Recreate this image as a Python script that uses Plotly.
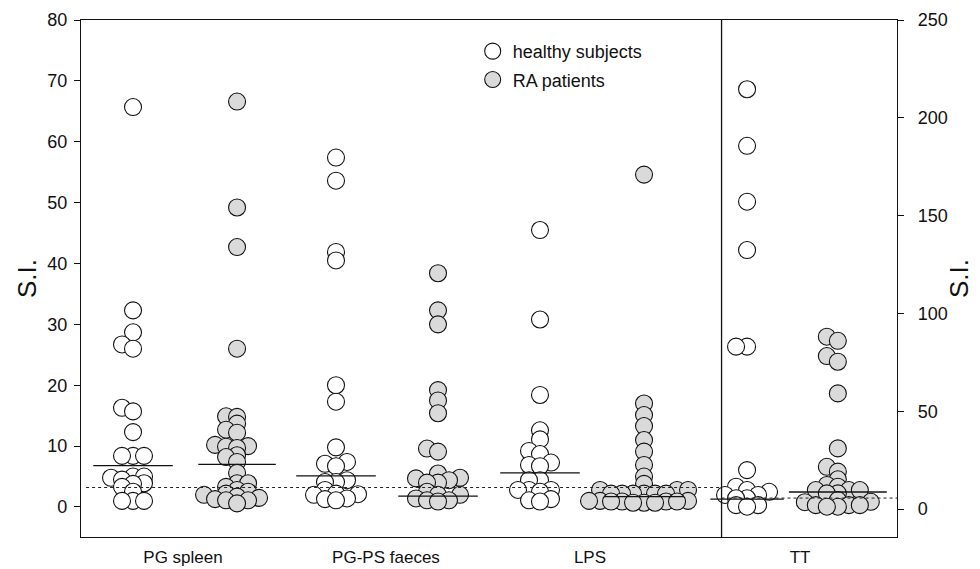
import plotly.graph_objects as go

# ---------------- data ----------------
categories = ["PG spleen", "PG-PS faeces", "LPS", "TT"]
series_names = ["healthy subjects", "RA patients"]

pg_spleen_healthy = [65.7, 32.3, 28.7, 26.7, 26.0, 16.3, 15.7, 12.3, 8.4, 8.4, 8.4, 5.0, 5.0,
                     4.8, 4.5, 3.9, 3.8, 3.3, 2.5, 1.0, 1.0, 1.0]
pg_spleen_ra = [66.6, 49.2, 42.7, 26.0, 14.9, 14.8, 13.7, 12.7, 12.2, 10.2, 10.0, 9.9, 9.7, 8.5,
                8.2, 7.4, 5.6, 3.9, 3.9, 3.3, 2.8, 2.5, 2.2, 2.0, 1.7, 1.5, 1.3, 1.1, 1.1, 0.6]
pgps_healthy = [57.4, 53.6, 41.9, 40.5, 20.0, 17.3, 9.8, 7.4, 7.1, 6.7, 4.4, 4.1, 4.1, 2.8, 2.2,
                2.1, 2.0, 1.4, 1.3, 1.1]
pgps_ra = [38.4, 32.3, 30.0, 19.2, 17.5, 15.4, 9.6, 9.1, 5.5, 4.8, 4.7, 4.4, 4.0, 4.0, 2.5, 2.0,
           2.0, 1.4, 1.1, 1.1, 0.9]
lps_healthy = [45.5, 30.8, 18.4, 12.6, 11.1, 9.2, 8.7, 7.3, 6.9, 6.7, 4.4, 4.4, 2.8, 2.8, 2.8,
               2.5, 1.3, 1.1, 0.9]
lps_ra = [54.6, 17.0, 15.1, 13.3, 11.0, 9.1, 6.9, 5.0, 3.8, 2.8, 2.8, 2.8, 2.2, 2.2, 2.2, 2.2,
          2.2, 2.2, 1.0, 1.0, 1.0, 0.9, 0.9, 0.9, 0.9, 0.7, 0.7, 0.7]
tt_healthy = [214.6, 185.7, 157.1, 132.4, 83.0, 83.0, 19.9, 11.4, 9.7, 8.8, 7.2, 7.2, 5.5, 5.5,
              2.0, 2.0, 1.2]
tt_ra = [88.1, 86.0, 78.2, 75.3, 59.1, 31.0, 21.6, 19.1, 15.2, 12.3, 11.4, 9.7, 9.7, 9.7, 8.0,
         8.0, 4.6, 3.7, 3.5, 2.0, 2.0, 2.0, 1.2, 1.2]

medians_left = [6.8, 7.0, 5.1, 1.8, 5.6, 1.7]      # PG spleen, PG-PS faeces, LPS (H, RA)
medians_tt = [5.1, 8.7]                            # TT (H, RA), right axis
cutoff_left = 3.2
cutoff_tt = 5.6

left_ticks = [0, 10, 20, 30, 40, 50, 60, 70, 80]
right_ticks = [0, 50, 100, 150, 200, 250]

# ---------------- layout geometry ----------------
# the page body adds an 8 px offset, so the figure is 8 px smaller than the window
OFF = 8
W, H = 980 - OFF, 569 - OFF
ML, MR, MT, MB = 81 - OFF, 83, 20 - OFF, 32
PW, PH = W - ML - MR, H - MT - MB
XR = [0, 8]
YR1 = [-4.93, 80]
YR2 = [-14.3, 250]
px_x = PW / (XR[1] - XR[0])
px_y1 = PH / (YR1[1] - YR1[0])
px_y2 = PH / (YR2[1] - YR2[0])

centers = [0.51, 1.53, 2.50, 3.50, 4.50, 5.52, 6.53, 7.42]
cat_pos = [1.0, 2.99, 4.99, 7.05]
separator = 6.28
half_w = [0.39, 0.38, 0.39, 0.39, 0.39, 0.39, 0.36, 0.48]


def swarm(vals, ppu, dxmin=11.0, dymin=6.5):
    """Box-collision dot layout in pixel space, returned as x offsets in data units."""
    placed = []
    xs = [0.0] * len(vals)
    order = sorted(range(len(vals)), key=lambda i: vals[i])
    for i in order:
        y = vals[i] * ppu
        near = [(px, py) for px, py in placed if abs(y - py) < dymin]
        cands = [0.0]
        for px, _ in near:
            cands += [px + dxmin, px - dxmin]
        cands.sort(key=lambda c: (round(abs(c), 6), c))
        chosen = cands[-1]
        for c in cands:
            if all(abs(c - px) >= dxmin - 1e-6 for px, _ in near):
                chosen = c
                break
        placed.append((chosen, y))
        xs[i] = chosen / px_x
    return xs


groups = [
    (pg_spleen_healthy, 0, "y", 0),
    (pg_spleen_ra, 1, "y", 1),
    (pgps_healthy, 0, "y", 2),
    (pgps_ra, 1, "y", 3),
    (lps_healthy, 0, "y", 4),
    (lps_ra, 1, "y", 5),
    (tt_healthy, 0, "y2", 6),
    (tt_ra, 1, "y2", 7),
]

fill = ["white", "#dadada"]
fig = go.Figure()
shown = [False, False]
for vals, kind, yax, gi in groups:
    ppu = px_y1 if yax == "y" else px_y2
    offs = swarm(vals, ppu)
    xs = [centers[gi] + o for o in offs]
    fig.add_trace(go.Scatter(
        x=xs, y=vals, mode="markers", yaxis=yax,
        name=series_names[kind], legendgroup=series_names[kind],
        showlegend=not shown[kind],
        marker=dict(size=17, color=fill[kind], line=dict(color="#111111", width=1.1)),
        hoverinfo="y",
    ))
    shown[kind] = True

# median lines
all_meds = medians_left + medians_tt
for gi, m in enumerate(all_meds):
    yax = "y" if gi < 6 else "y2"
    fig.add_trace(go.Scatter(
        x=[centers[gi] - half_w[gi], centers[gi] + half_w[gi]], y=[m, m], mode="lines",
        yaxis=yax, showlegend=False, hoverinfo="skip",
        line=dict(color="#111111", width=1.3),
    ))

# cutoff (dotted) lines
fig.add_trace(go.Scatter(x=[XR[0] + 0.05, separator], y=[cutoff_left, cutoff_left], mode="lines",
                         yaxis="y", showlegend=False, hoverinfo="skip",
                         line=dict(color="#222222", width=1, dash="dot")))
fig.add_trace(go.Scatter(x=[separator, XR[1]], y=[cutoff_tt, cutoff_tt], mode="lines",
                         yaxis="y2", showlegend=False, hoverinfo="skip",
                         line=dict(color="#222222", width=1, dash="dot")))

fig.add_shape(type="line", xref="x", yref="paper", x0=separator, x1=separator, y0=0, y1=1,
              line=dict(color="#111111", width=1.3))

font_family = "Liberation Sans, Arial, sans-serif"
fig.update_layout(
    width=W, height=H,
    margin=dict(l=ML, r=MR, t=MT, b=MB, autoexpand=False),
    paper_bgcolor="white", plot_bgcolor="white",
    font=dict(family=font_family, color="#111111", size=18),
    xaxis=dict(range=XR, tickvals=cat_pos, ticktext=categories, showgrid=False, zeroline=False,
               showline=True, linecolor="#111111", linewidth=1.3, mirror=True, ticks="",
               tickfont=dict(size=17), automargin=False, ticklabelstandoff=4),
    yaxis=dict(range=YR1, tickvals=left_ticks, showgrid=False, zeroline=False, showline=True,
               linecolor="#111111", linewidth=1.3, ticks="outside", ticklen=6,
               tickcolor="#111111", tickfont=dict(size=18), automargin=False,
               ticklabelstandoff=3,
               title=dict(text="S.I.", font=dict(size=26), standoff=3)),
    yaxis2=dict(range=YR2, tickvals=right_ticks, overlaying="y", side="right", showgrid=False,
                zeroline=False, showline=True, linecolor="#111111", linewidth=1.3,
                ticks="outside", ticklen=6, tickcolor="#111111", tickfont=dict(size=18),
                automargin=False, ticklabelstandoff=10,
                title=dict(text="S.I.", font=dict(size=26), standoff=3)),
    legend=dict(x=0.48, y=0.975, xanchor="left", yanchor="top", bgcolor="rgba(0,0,0,0)",
                font=dict(size=18), tracegroupgap=2, itemsizing="trace"),
    showlegend=True,
)

fig.write_html("out.html")
